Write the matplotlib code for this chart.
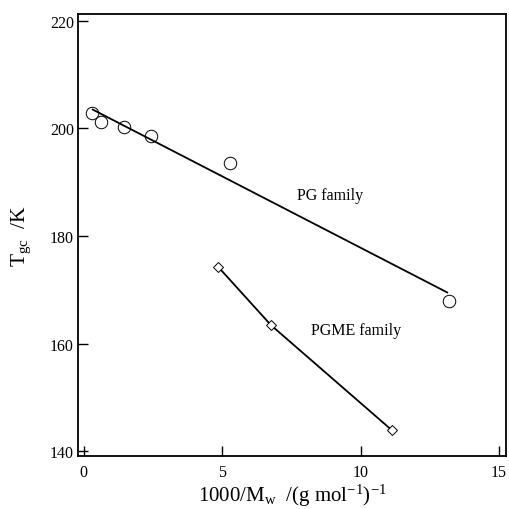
import matplotlib
matplotlib.use("Agg")
import matplotlib.pyplot as plt

plt.rcParams["font.family"] = ["Liberation Serif", "DejaVu Serif"]
plt.rcParams["mathtext.fontset"] = "custom"
plt.rcParams["mathtext.rm"] = "Liberation Serif"
plt.rcParams["mathtext.it"] = "Liberation Serif"

# PG family (circles)
pg_x = [0.31, 0.62, 1.47, 2.44, 5.29, 13.2]
pg_y = [202.8, 201.1, 200.2, 198.5, 193.6, 168.0]
pg_fit_x = [0.33, 13.13]
pg_fit_y = [203.5, 169.5]

# PGME family (diamonds)
pgme_x = [4.87, 6.77, 11.13]
pgme_y = [174.2, 163.4, 143.9]

x_ticks = [0, 5, 10, 15]
y_ticks = [140, 160, 180, 200, 220]

fig = plt.figure(figsize=(5.1, 5.1), dpi=100)
ax = fig.add_axes([0.153, 0.104, 0.839, 0.867])

ax.plot(pg_fit_x, pg_fit_y, color="black", linewidth=1.3)
ax.plot(pg_x, pg_y, linestyle="none", marker="o", markersize=9,
        markerfacecolor="none", markeredgecolor="black", markeredgewidth=0.7)

ax.plot(pgme_x, pgme_y, color="black", linewidth=1.3)
ax.plot(pgme_x, pgme_y, linestyle="none", marker="D", markersize=5,
        markerfacecolor="white", markeredgecolor="black", markeredgewidth=0.7)

ax.text(7.72, 186.8, "PG family", fontsize=11.5)
ax.text(8.2, 161.7, "PGME family", fontsize=11.5)

ax.set_xlim(-0.2, 15.25)
ax.set_ylim(139.1, 221.3)
ax.set_xticks(x_ticks)
ax.set_yticks(y_ticks)
ax.tick_params(direction="in", length=7, width=1.0, labelsize=11.5, pad=3)
ax.tick_params(axis="x", pad=6)

for s in ax.spines.values():
    s.set_linewidth(1.3)

ax.set_xlabel("1000/M$_{\\mathrm{w}}$  /(g mol$^{-1}$)$^{-1}$", fontsize=15, labelpad=1)
ax.set_ylabel("T$_{\\mathrm{gc}}$  /K", fontsize=15.5, labelpad=12)

fig.savefig("out.png", dpi=100)
